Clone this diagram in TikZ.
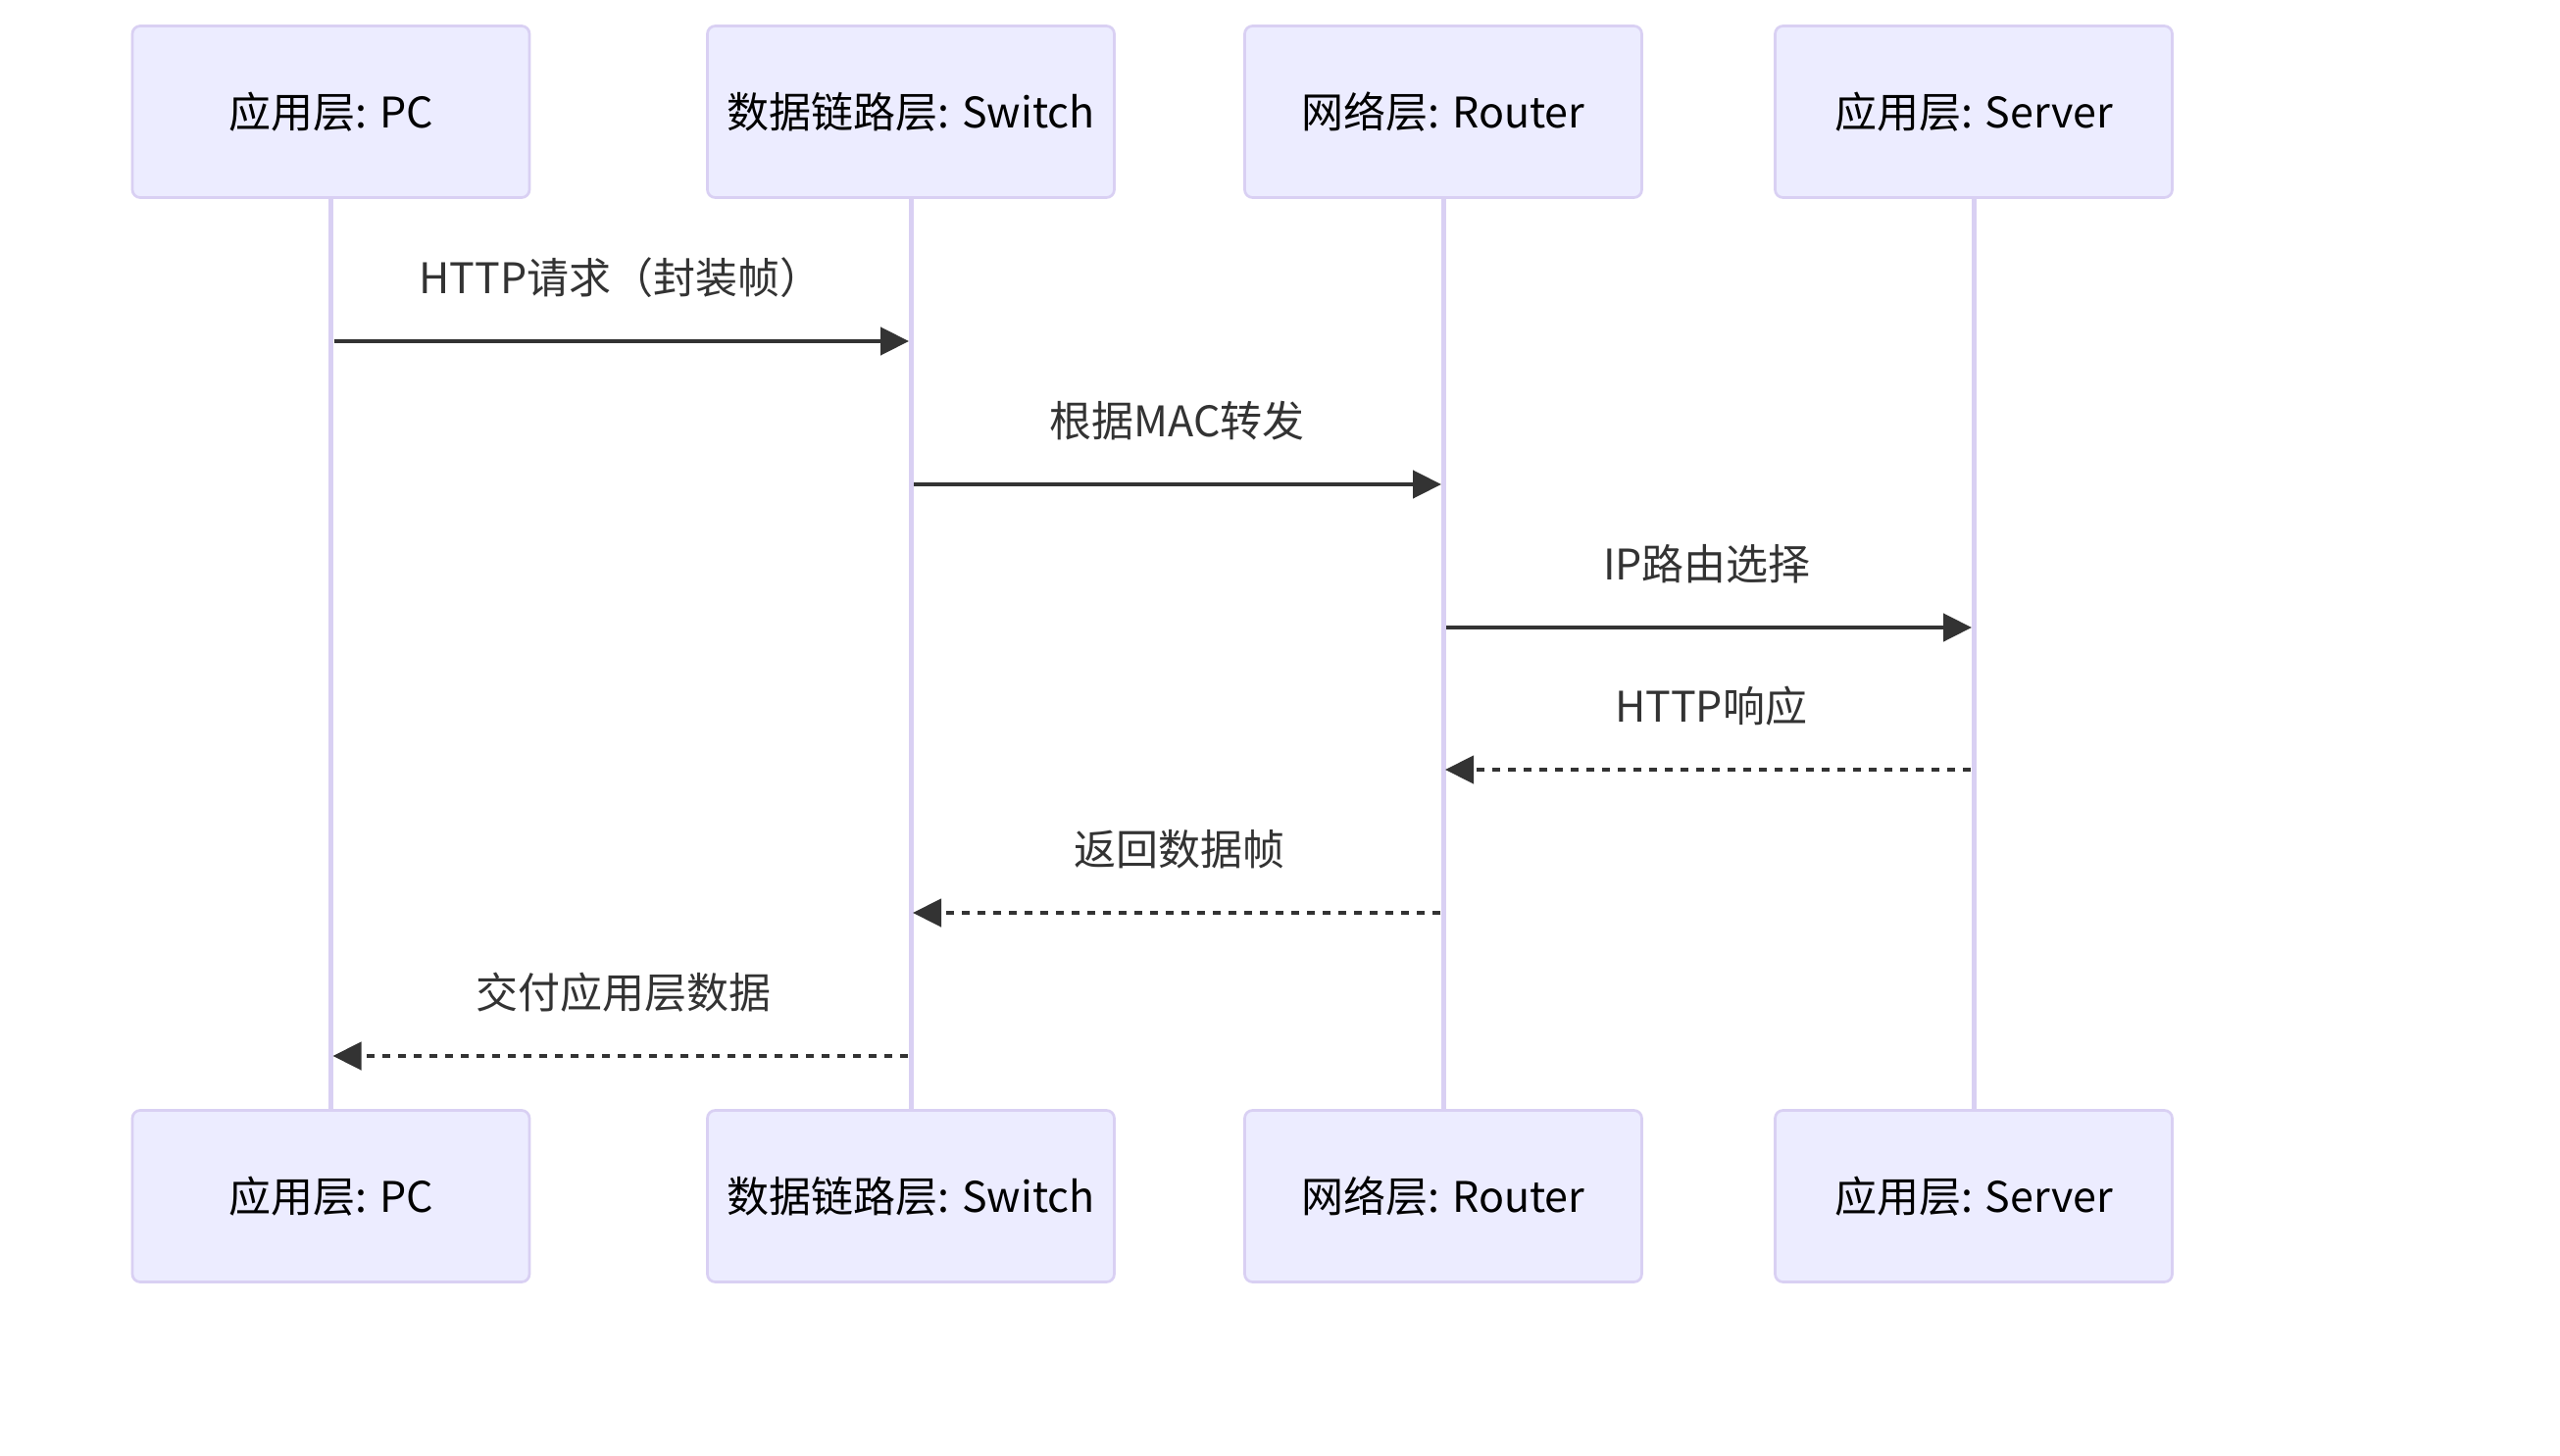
\documentclass[tikz,border=0pt]{standalone}
\usepackage{fontspec}
\setmainfont{Noto Sans CJK SC}
\usetikzlibrary{arrows.meta}
\definecolor{actfill}{HTML}{ECECFF}
\definecolor{actline}{HTML}{D9D0F3}
\definecolor{msgcol}{HTML}{333333}
\tikzset{
  actor/.style={draw=actline, fill=actfill, line width=2.7pt, rounded corners=8pt,
    minimum width=405pt, minimum height=175pt, inner sep=0pt,
    font=\fontsize{43}{50}\selectfont, text=black},
  lifeline/.style={draw=actline, line width=5pt},
  msg/.style={draw=msgcol, line width=4.5pt, -{Triangle[length=29pt,width=28pt]}},
  reply/.style={msg, dash pattern=on 8pt off 8pt},
  lbl/.style={font=\fontsize{43}{50}\selectfont, text=msgcol, inner sep=0pt}
}
\begin{document}
\begin{tikzpicture}[x=1pt,y=-1pt]
\useasboundingbox[fill=white] (0,0) rectangle (2611,1485);
% top actors
\node[actor] (pct) at (337.5,114) {应用层: PC};
\node[actor, minimum width=415pt] (swt) at (929,114) {数据链路层: Switch};
\node[actor] (rtt) at (1472,114) {网络层: Router};
\node[actor] (svt) at (2013,114) {应用层: Server};
% bottom actors
\node[actor] (pcb) at (337.5,1220) {应用层: PC};
\node[actor, minimum width=415pt] (swb) at (929,1220) {数据链路层: Switch};
\node[actor] (rtb) at (1472,1220) {网络层: Router};
\node[actor] (svb) at (2013,1220) {应用层: Server};
% lifelines
\draw[lifeline] (pct.south) -- (pcb.north);
\draw[lifeline] (swt.south) -- (swb.north);
\draw[lifeline] (rtt.south) -- (rtb.north);
\draw[lifeline] (svt.south) -- (svb.north);
% message anchor points
\coordinate (m1a) at (pct.south |- 0,348);
\coordinate (m1b) at (swt.south |- 0,348);
\coordinate (m2a) at (swt.south |- 0,494);
\coordinate (m2b) at (rtt.south |- 0,494);
\coordinate (m3a) at (rtt.south |- 0,640);
\coordinate (m3b) at (svt.south |- 0,640);
\coordinate (m4a) at (svt.south |- 0,785);
\coordinate (m4b) at (rtt.south |- 0,785);
\coordinate (m5a) at (rtt.south |- 0,931);
\coordinate (m5b) at (swt.south |- 0,931);
\coordinate (m6a) at (swt.south |- 0,1077);
\coordinate (m6b) at (pct.south |- 0,1077);
% messages
\draw[msg] ([xshift=3pt]m1a) -- ([xshift=-2pt]m1b);
\draw[msg] ([xshift=3pt]m2a) -- ([xshift=-2pt]m2b);
\draw[msg] ([xshift=3pt]m3a) -- ([xshift=-2pt]m3b);
\draw[reply] ([xshift=-3pt]m4a) -- ([xshift=2pt]m4b);
\draw[reply] ([xshift=-3pt]m5a) -- ([xshift=2pt]m5b);
\draw[reply] ([xshift=-3pt]m6a) -- ([xshift=2pt]m6b);
% labels
\node[lbl] (l1) at (633,283) {HTTP请求（封装帧）};
\node[lbl] (l2) at (1200.5,429) {根据MAC转发};
\node[lbl] (l3) at (1741,575) {IP路由选择};
\node[lbl] (l4) at (1745,720) {HTTP响应};
\node[lbl] (l5) at (1203,866) {返回数据帧};
\node[lbl] (l6) at (636,1012) {交付应用层数据};
\end{tikzpicture}
\end{document}
